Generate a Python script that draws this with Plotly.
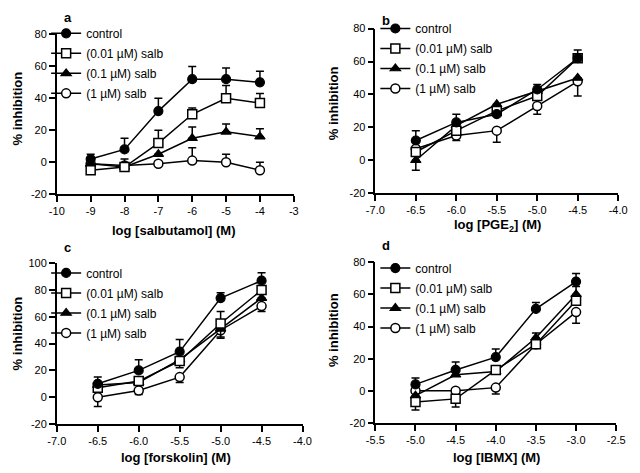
import plotly.graph_objects as go

FONT = "Liberation Sans, Arial, sans-serif"

NAMES = ["control", "(0.01 µM) salb", "(0.1 µM) salb", "(1 µM) salb"]

# panel a: salbutamol
a_x = [-9, -8, -7, -6, -5, -4]
a_ctrl = [2, 8, 32, 52, 52, 50]
a_ctrl_up = [3, 7, 8, 8, 7, 7]
a_s001 = [-5, -3, 12, 30, 40, 37]
a_s001_up = [0, 5, 8, 4, 8, 6]
a_s01 = [-1, -3, 5, 15, 19, 16]
a_s01_up = [0, 0, 0, 7, 5, 5]
a_s1 = [-1, -2, -1, 1, 0, -5]
a_s1_up = [0, 0, 0, 8, 5, 5]

# panel b: PGE2
b_x = [-6.5, -6.0, -5.5, -5.0, -4.5]
b_ctrl = [12, 23, 28, 43, 62]
b_ctrl_up = [6, 5, 0, 3, 5]
b_s001 = [5, 18, 30, 39, 62]
b_s01 = [0, 21, 34, 42, 50]
b_s01_dn = [6, 0, 0, 0, 0]
b_s1 = [7, 15, 18, 33, 48]
b_s1_dn = [0, 3, 7, 5, 9]

# panel c: forskolin
c_x = [-6.5, -6.0, -5.5, -5.0, -4.5]
c_ctrl = [10, 20, 34, 74, 87]
c_ctrl_up = [5, 8, 9, 4, 6]
c_s001 = [7, 12, 27, 55, 80]
c_s001_up = [0, 0, 0, 9, 0]
c_s001_dn = [0, 0, 5, 0, 0]
c_s01 = [9, 11, 28, 51, 74]
c_s01_dn = [0, 0, 0, 6, 0]
c_s1 = [0, 5, 15, 50, 68]
c_s1_dn = [7, 3, 4, 6, 4]

# panel d: IBMX
d_x = [-5.0, -4.5, -4.0, -3.5, -3.0]
d_ctrl = [4, 13, 21, 51, 68]
d_ctrl_up = [4, 5, 5, 4, 5]
d_s001 = [-7, -5, 13, 29, 56]
d_s001_dn = [5, 5, 0, 0, 0]
d_s01 = [-3, 10, 12, 33, 60]
d_s01_up = [0, 0, 0, 3, 5]
d_s1 = [0, 0, 2, 29, 49]
d_s1_dn = [0, 0, 4, 0, 7]

# tick labels (hyphen minus, as in the original)
a_xticks = [-10, -9, -8, -7, -6, -5, -4, -3]
b_xticks = [-7.0, -6.5, -6.0, -5.5, -5.0, -4.5, -4.0]
c_xticks = [-7.0, -6.5, -6.0, -5.5, -5.0, -4.5, -4.0]
d_xticks = [-5.5, -5.0, -4.5, -4.0, -3.5, -3.0, -2.5]
y80_ticks = [-20, 0, 20, 40, 60, 80]
y100_ticks = [-20, 0, 20, 40, 60, 80, 100]

MARKERS = [
    dict(symbol="circle", color="black", line=dict(color="black", width=1.2)),
    dict(symbol="square", color="white", line=dict(color="black", width=1.5)),
    dict(symbol="triangle-up", color="black", line=dict(color="black", width=1.2)),
    dict(symbol="circle", color="white", line=dict(color="black", width=1.5)),
]

# page body keeps an 8 px margin, so lay out in a slightly smaller canvas
OFF = 8
W, H = 640 - 2 * OFF, 473 - 2 * OFF

fig = go.Figure()


def fx(x):
    return (x - OFF) / W


def fy(y):
    return 1 - (y - OFF) / H


def lab(v, fmt):
    return format(v, fmt)


def add_panel(idx, x, series, xticks, xfmt, yticks, box, legpos):
    sfx = "" if idx == 1 else str(idx)
    leg = "legend" + sfx
    # draw back to front so control sits on top
    for k in [3, 2, 1, 0]:
        y, up, dn = series[k]
        zeros = [0] * len(x)
        fig.add_trace(go.Scatter(
            x=x, y=y, name=NAMES[k], mode="lines+markers",
            xaxis="x" + sfx, yaxis="y" + sfx, legend=leg,
            legendrank=k + 1, legendgroup=leg + str(k),
            line=dict(color="black", width=1.5),
            marker=dict(size=9, **MARKERS[k]),
            error_y=dict(type="data", symmetric=False,
                         array=up if up else zeros,
                         arrayminus=dn if dn else zeros,
                         color="black", thickness=1.5, width=4),
        ))
    ax = dict(showline=True, linecolor="black", linewidth=1.5, ticks="outside",
              ticklen=6, tickwidth=1.5, tickcolor="black", showgrid=False,
              zeroline=False, tickfont=dict(family=FONT, size=11, color="black"))
    x0, x1, top, bottom = box
    fig.layout["xaxis" + sfx] = dict(ax, domain=[fx(x0), fx(x1)],
                                     range=[xticks[0], xticks[-1]],
                                     anchor="y" + sfx, tickvals=xticks,
                                     ticktext=[lab(v, xfmt) for v in xticks])
    fig.layout["yaxis" + sfx] = dict(ax, domain=[fy(bottom), fy(top)],
                                     range=[yticks[0], yticks[-1]],
                                     anchor="x" + sfx, tickvals=yticks,
                                     ticktext=[lab(v, "d") for v in yticks])
    fig.layout[leg] = dict(x=fx(legpos[0]), y=fy(legpos[1]), xanchor="left",
                           yanchor="top", bgcolor="rgba(0,0,0,0)", itemwidth=30,
                           tracegroupgap=1,
                           font=dict(family=FONT, size=12, color="black"))


add_panel(1, a_x,
          [(a_ctrl, a_ctrl_up, None), (a_s001, a_s001_up, None),
           (a_s01, a_s01_up, None), (a_s1, a_s1_up, None)],
          a_xticks, "d", y80_ticks, (49, 293, 29, 193), (38, 13))
add_panel(2, b_x,
          [(b_ctrl, b_ctrl_up, None), (b_s001, None, None),
           (b_s01, None, b_s01_dn), (b_s1, None, b_s1_dn)],
          b_xticks, ".1f", y80_ticks, (377, 627, 23, 192), (377, 8))
add_panel(3, c_x,
          [(c_ctrl, c_ctrl_up, None), (c_s001, c_s001_up, c_s001_dn),
           (c_s01, None, c_s01_dn), (c_s1, None, c_s1_dn)],
          c_xticks, ".1f", y100_ticks, (49, 302, 264, 429), (38, 259))
add_panel(4, d_x,
          [(d_ctrl, d_ctrl_up, None), (d_s001, None, d_s001_dn),
           (d_s01, d_s01_up, None), (d_s1, None, d_s1_dn)],
          d_xticks, ".1f", y80_ticks, (377, 625, 263, 428), (377, 254))

# text: panel letters, axis titles
texts = [
    ("a", 60, 12, 0), ("b", 388, 15, 0), ("c", 60, 248, 0), ("d", 388, 246, 0),
    ("log [salbutamol] (M)", 170, 230, 0), ("log [PGE<sub>2</sub>] (M)", 503, 225, 0),
    ("log [forskolin] (M)", 172, 463, 0), ("log [IBMX] (M)", 502, 463, 0),
    ("% inhibition", 8, 105, -90), ("% inhibition", 334, 100, -90),
    ("% inhibition", 8, 336, -90), ("% inhibition", 334, 333, -90),
]
for t, x, y, ang in texts:
    fig.add_annotation(text="<b>%s</b>" % t, x=fx(x), y=fy(y), xref="paper",
                       yref="paper", showarrow=False, textangle=ang,
                       xanchor="center", yanchor="middle",
                       font=dict(family=FONT, size=13, color="black"))

fig.update_layout(width=W, height=H, margin=dict(l=0, r=0, t=0, b=0),
                  paper_bgcolor="white", plot_bgcolor="white", showlegend=True)

fig.write_html("out.html")
